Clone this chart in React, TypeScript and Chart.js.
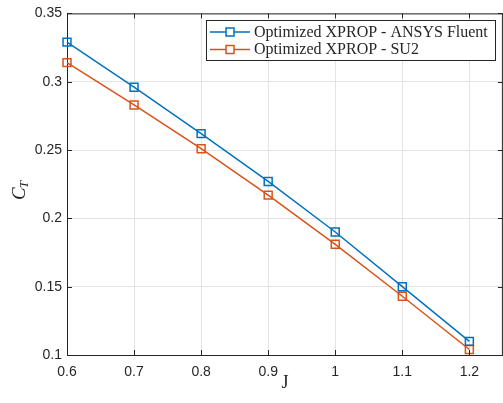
import React, { useEffect, useRef } from "react";
import { Chart, registerables } from "chart.js";

Chart.register(...registerables);

const J = [0.6, 0.7, 0.8, 0.9, 1.0, 1.1, 1.2];
const ctFluent = [0.329, 0.296, 0.262, 0.227, 0.19, 0.15, 0.11];
const ctSU2 = [0.314, 0.283, 0.251, 0.217, 0.181, 0.143, 0.104];
const xTicks = [0.6, 0.7, 0.8, 0.9, 1.0, 1.1, 1.2];
const yTicks = [0.1, 0.15, 0.2, 0.25, 0.3, 0.35];
const seriesLabels = ["Optimized XPROP - ANSYS Fluent", "Optimized XPROP - SU2"];
const seriesColors = ["#0072BD", "#D95319"];
const xLabel = "J";
const yLabelMain = "C";
const yLabelSub = "T";

const AXIS = "#262626";
const GRID = "#e3e3e3";

const decoPlugin = {
  id: "deco",
  afterDraw(chart: any) {
    const ctx = chart.ctx;
    const { left, right, top, bottom } = chart.chartArea;
    const xs = chart.scales.x;
    const ys = chart.scales.y;
    ctx.save();
    ctx.strokeStyle = AXIS;
    ctx.lineWidth = 1;
    ctx.beginPath();
    ctx.moveTo(left, top + 0.5);
    ctx.lineTo(right, top + 0.5);
    ctx.moveTo(right - 0.5, top);
    ctx.lineTo(right - 0.5, bottom);
    ctx.stroke();
    ctx.beginPath();
    xs.ticks.forEach((t: any) => {
      const px = Math.round(xs.getPixelForValue(t.value)) + 0.5;
      ctx.moveTo(px, bottom);
      ctx.lineTo(px, bottom - 5);
      ctx.moveTo(px, top);
      ctx.lineTo(px, top + 5);
    });
    ys.ticks.forEach((t: any) => {
      const py = Math.round(ys.getPixelForValue(t.value)) + 0.5;
      ctx.moveTo(left, py);
      ctx.lineTo(left + 5, py);
      ctx.moveTo(right, py);
      ctx.lineTo(right - 5, py);
    });
    ctx.stroke();

    ctx.fillStyle = AXIS;
    ctx.font = "18px 'Liberation Serif'";
    ctx.textAlign = "center";
    ctx.textBaseline = "alphabetic";
    ctx.fillText(xLabel, (left + right) / 2, 388);

    ctx.save();
    ctx.translate(25, 190);
    ctx.rotate(-Math.PI / 2);
    ctx.textAlign = "left";
    ctx.font = "italic 19px 'Liberation Serif'";
    const wC = ctx.measureText(yLabelMain).width;
    ctx.font = "italic 13px 'Liberation Serif'";
    const wT = ctx.measureText(yLabelSub).width;
    const total = wC + wT;
    ctx.font = "italic 19px 'Liberation Serif'";
    ctx.fillText(yLabelMain, -total / 2, 0);
    ctx.font = "italic 13px 'Liberation Serif'";
    ctx.fillText(yLabelSub, -total / 2 + wC - 1, 3);
    ctx.restore();

    const bx = 206.5, by = 20.5, bw = 289, bh = 40;
    ctx.fillStyle = "#ffffff";
    ctx.fillRect(bx, by, bw, bh);
    ctx.strokeStyle = AXIS;
    ctx.lineWidth = 1;
    ctx.strokeRect(bx, by, bw, bh);
    const rows = [32, 49.5];
    ctx.font = "15px 'Liberation Serif'";
    const w0 = ctx.measureText(seriesLabels[0]).width;
    const fs = (15 * 234) / w0;
    seriesLabels.forEach((lab, i) => {
      const ry = rows[i];
      ctx.strokeStyle = seriesColors[i];
      ctx.lineWidth = 1.5;
      ctx.beginPath();
      ctx.moveTo(210, ry);
      ctx.lineTo(250, ry);
      ctx.stroke();
      ctx.fillStyle = "#ffffff";
      ctx.fillRect(226, ry - 4, 8, 8);
      ctx.strokeRect(226, ry - 4, 8, 8);
      ctx.fillStyle = AXIS;
      ctx.font = `${fs}px 'Liberation Serif'`;
      ctx.textAlign = "left";
      ctx.textBaseline = "middle";
      ctx.fillText(lab, 254, ry + 0.5);
    });
    ctx.restore();
  },
};

export default function App() {
  const ref = useRef<HTMLCanvasElement | null>(null);
  useEffect(() => {
    if (!ref.current) return;
    const mk = (vals: number[]) => J.map((x, i) => ({ x, y: vals[i] }));
    const fmt = (v: any) => String(Number(Number(v).toFixed(2)));
    const chart = new Chart(ref.current, {
      type: "line",
      data: {
        datasets: [ctFluent, ctSU2].map((vals, i) => ({
          label: seriesLabels[i],
          data: mk(vals),
          borderColor: seriesColors[i],
          backgroundColor: "transparent",
          borderWidth: 1.5,
          pointStyle: "rect",
          pointRadius: 5.6,
          pointBorderWidth: 1.5,
          pointBackgroundColor: "transparent",
          pointBorderColor: seriesColors[i],
          tension: 0,
          clip: false as any,
        })),
      },
      options: {
        animation: false,
        responsive: false,
        devicePixelRatio: 1,
        events: [],
        layout: { padding: { left: 0, top: 10, right: 4.25, bottom: 0 } },
        plugins: { legend: { display: false }, tooltip: { enabled: false } },
        scales: {
          x: {
            type: "linear",
            min: 0.6,
            max: 1.25,
            afterBuildTicks: (s: any) => {
              s.ticks = xTicks.map((v) => ({ value: v }));
            },
            afterFit: (s: any) => {
              s.height = 48;
            },
            ticks: {
              color: AXIS,
              font: { family: "'Liberation Sans'", size: 14 },
              padding: 9,
              maxRotation: 0,
              autoSkip: false,
              callback: fmt,
            },
            grid: { color: GRID, lineWidth: 1, drawTicks: false },
            border: { color: AXIS, width: 1 },
          },
          y: {
            type: "linear",
            min: 0.1,
            max: 0.35,
            afterBuildTicks: (s: any) => {
              s.ticks = yTicks.map((v) => ({ value: v }));
            },
            afterFit: (s: any) => {
              s.width = 67;
            },
            ticks: {
              color: AXIS,
              font: { family: "'Liberation Sans'", size: 14 },
              padding: 5,
              autoSkip: false,
              callback: fmt,
            },
            grid: { color: GRID, lineWidth: 1, drawTicks: false },
            border: { color: AXIS, width: 1 },
          },
        },
      },
      plugins: [decoPlugin],
    });
    return () => chart.destroy();
  }, []);
  return (
    <div
      style={{
        position: "fixed",
        left: 0,
        top: 0,
        width: 503,
        height: 403,
        overflow: "hidden",
        background: "#ffffff",
      }}
    >
      <canvas ref={ref} width={510} height={403} style={{ width: 510, height: 403, display: "block" }} />
    </div>
  );
}
